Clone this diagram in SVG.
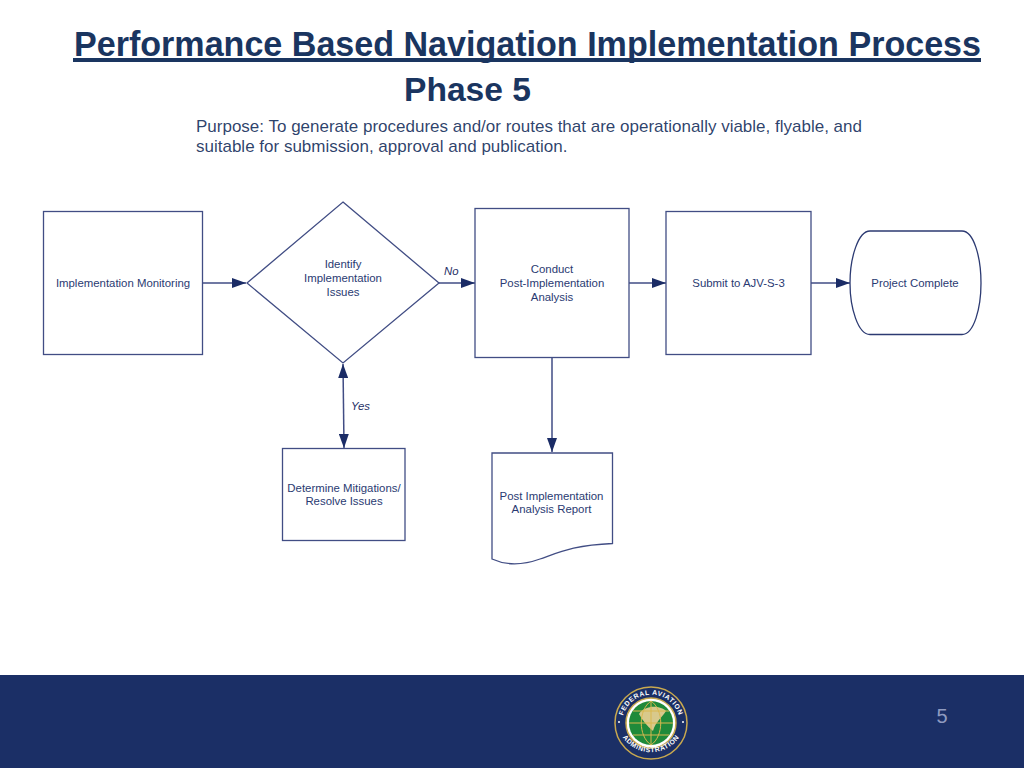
<svg xmlns="http://www.w3.org/2000/svg" width="1024" height="768" viewBox="0 0 1024 768">
<style>
.h{font-family:"Liberation Sans",Arial,sans-serif;font-weight:bold;fill:#1a3560}
.p{font-family:"Liberation Sans",Arial,sans-serif;font-size:17px;fill:#1f3864;fill-opacity:.95}
.n{font-family:"Liberation Sans",Arial,sans-serif;font-size:11.400px;fill:#2a3a72;text-anchor:middle}
.l{font-family:"Liberation Sans",Arial,sans-serif;font-size:11.400px;font-style:italic;fill:#1f2f66}
.s{fill:#fff;stroke:#414d84;stroke-width:1.300}
.c{fill:none;stroke:#414d84;stroke-width:1.500}
.e{fill:#fff;stroke:#2c3a72;stroke-width:1.300}
.seal{font-family:"Liberation Sans",Arial,sans-serif;font-size:6.800px;font-weight:bold;fill:#fff;letter-spacing:.6px}
</style>
<defs>
<marker id="a" markerUnits="userSpaceOnUse" markerWidth="14" markerHeight="10" refX="14" refY="5" orient="auto"><path d="M0 0L14 5L0 10z" fill="#1b2c66"/></marker>
<marker id="b" markerUnits="userSpaceOnUse" markerWidth="14" markerHeight="10" refX="14" refY="5" orient="auto-start-reverse"><path d="M0 0L14 5L0 10z" fill="#1b2c66"/></marker>
<path id="t1" d="M624.300 735A29 29 0 1 1 677.700 735"/>
<path id="t2" d="M617.500 709.500A34.500 34.500 0 1 0 684.500 709.500"/>
</defs>
<rect width="1024" height="768" fill="#fff"/>
<g id="header">
<rect x="73" y="58" width="908" height="4" fill="#1a3560"/>
<text class="h" x="74" y="56" font-size="35.500" textLength="907" lengthAdjust="spacingAndGlyphs">Performance Based Navigation Implementation Process</text>
<text class="h" x="404" y="101" font-size="33.500" textLength="127" lengthAdjust="spacingAndGlyphs">Phase 5</text>
<text class="p" x="196" y="132">Purpose: To generate procedures and/or routes that are operationally viable, flyable, and</text>
<text class="p" x="196" y="152">suitable for submission, approval and publication.</text>
</g>
<g id="connectors">
<path class="c" marker-end="url(#a)" d="M203 283H246"/>
<path class="c" marker-end="url(#a)" d="M439 283H475"/>
<path class="c" marker-end="url(#a)" d="M629 283H666"/>
<path class="c" marker-end="url(#a)" d="M811 283H850"/>
<path class="c" marker-end="url(#a)" d="M552 357V452"/>
<path class="c" marker-start="url(#b)" marker-end="url(#b)" d="M343 364L344 448"/>
</g>
<g id="implementation-monitoring">
<rect class="s" x="43.500" y="211.500" width="159" height="143"/>
<text class="n" x="123" y="287">Implementation Monitoring</text>
</g>
<g id="identify-issues">
<path class="s" d="M343 202L439 283L343 363L247 283Z"/>
<text class="n" x="343" y="268">Identify</text>
<text class="n" x="343" y="282">Implementation</text>
<text class="n" x="343" y="296">Issues</text>
</g>
<g id="conduct-analysis">
<rect class="s" x="475" y="208.500" width="154" height="149"/>
<text class="n" x="552" y="273">Conduct</text>
<text class="n" x="552" y="287">Post-Implementation</text>
<text class="n" x="552" y="301">Analysis</text>
</g>
<g id="submit">
<rect class="s" x="666" y="211.500" width="145" height="143"/>
<text class="n" x="738.500" y="287" font-size="11.600">Submit to AJV-S-3</text>
</g>
<g id="project-complete">
<path class="e" d="M870 231H962C974 231 981 258 981 283C981 308 974 334.500 962 334.500H870C858 334.500 850 308 850 283C850 258 858 231 870 231Z"/>
<text class="n" x="915" y="287">Project Complete</text>
</g>
<g id="determine-mitigations">
<rect class="s" x="282.500" y="448.500" width="122.500" height="92"/>
<text class="n" x="344" y="492">Determine Mitigations/</text>
<text class="n" x="344" y="505">Resolve Issues</text>
</g>
<g id="report">
<path class="s" d="M492 453H612.500V543.500C575 545 560 552 540 559C522 565.500 505 565 492 559Z"/>
<text class="n" x="551.500" y="500">Post Implementation</text>
<text class="n" x="551.500" y="513">Analysis Report</text>
</g>
<g id="edge-labels">
<text class="l" x="444" y="275">No</text>
<text class="l" x="351" y="410">Yes</text>
</g>
<g id="footer">
<rect x="0" y="675" width="1024" height="93" fill="#1b2f66"/>
<text x="942" y="723" font-family="'Liberation Sans',Arial,sans-serif" font-size="20" fill="#8f9bc0" text-anchor="middle">5</text>
<circle cx="651" cy="723" r="36" fill="#1b2f66" stroke="#c9a94f" stroke-width="1.500"/>
<circle cx="651" cy="723" r="25" fill="#fff" stroke="#c9a94f" stroke-width="1.500"/>
<circle cx="651" cy="723" r="22" fill="#1f8a3a"/>
<path d="M639 714C646 704 661 706 666 711C661 719 656 721 653 731C647 726 643 721 639 714Z" fill="#d8c98c"/>
<path d="M629 723H673M651 701V745M651 701C638 710 638 736 651 745M651 701C664 710 664 736 651 745M633 711H669M633 735H669" fill="none" stroke="#d9b84f" stroke-width="1"/>
<text class="seal"><textPath href="#t1" startOffset="50%" text-anchor="middle">FEDERAL AVIATION</textPath></text>
<text class="seal"><textPath href="#t2" startOffset="50%" text-anchor="middle">ADMINISTRATION</textPath></text>
<circle cx="619" cy="722" r="1" fill="#fff"/>
<circle cx="683" cy="722" r="1" fill="#fff"/>
</g>
</svg>
